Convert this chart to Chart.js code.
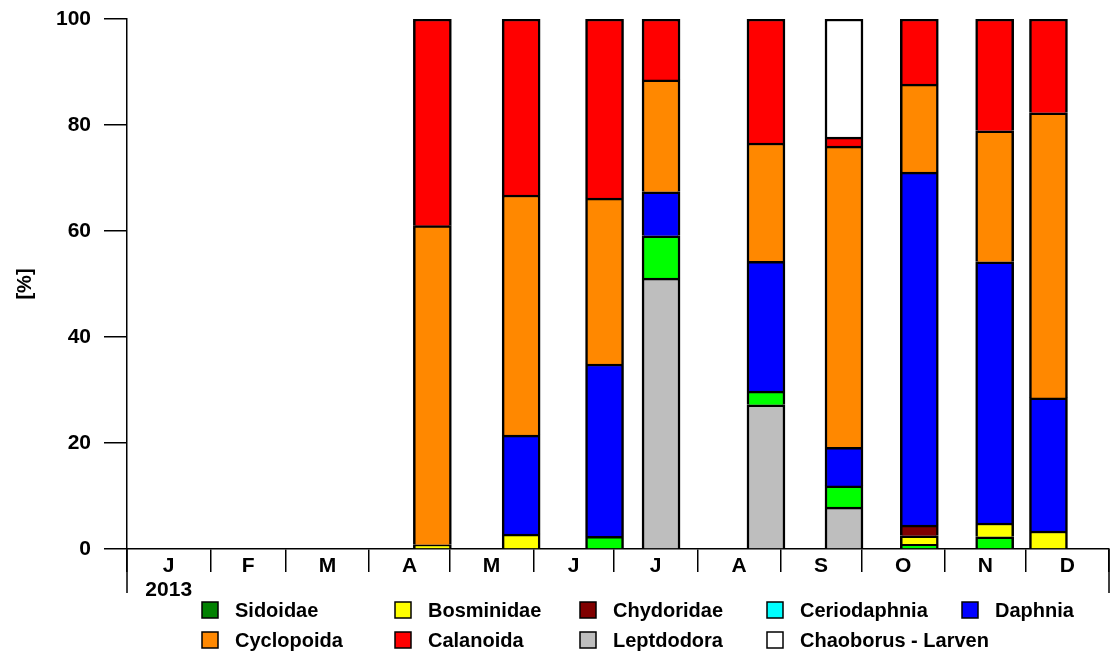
<!DOCTYPE html>
<html>
<head>
<meta charset="utf-8">
<script src="https://cdn.jsdelivr.net/npm/chart.js@4.4.0/dist/chart.umd.min.js"></script>
<style>
  html, body { margin: 0; padding: 0; background: #fff; }
</style>
</head>
<body>
<canvas id="chart" width="1110" height="654"></canvas>
<script>
// sampling dates (2013)
const sampleDates = ['2013-04-24', '2013-05-27', '2013-06-27', '2013-07-18', '2013-08-26',
                     '2013-09-24', '2013-10-22', '2013-11-19', '2013-12-09'];

// share of each group in %, one value per sampling date
const leptdodora   = [0, 0, 0, 51.1, 27.2, 7.9, 0, 0, 0];
const sidoidae     = [0, 0, 2.4, 8.0, 2.6, 4.0, 0.9, 2.3, 0];
const bosminidae   = [0.8, 2.8, 0, 0, 0, 0, 1.6, 2.6, 3.4];
const chydoridae   = [0, 0, 0, 0, 0, 0, 2.0, 0, 0];
const ceriodaphnia = [0, 0, 0, 0, 0, 0, 0, 0, 0];
const daphnia      = [0, 18.7, 32.5, 8.3, 24.5, 7.3, 66.6, 49.3, 25.1];
const cyclopoida   = [60.2, 45.3, 31.3, 21.1, 22.3, 56.8, 16.6, 24.7, 53.8];
const calanoida    = [39.0, 33.2, 33.8, 11.5, 23.4, 1.7, 12.3, 21.1, 17.7];
const chaoborus    = [0, 0, 0, 0, 0, 22.3, 0, 0, 0];

const monthLetters = ['J', 'F', 'M', 'A', 'M', 'J', 'J', 'A', 'S', 'O', 'N', 'D'];
const yTicks = [0, 20, 40, 60, 80, 100];
const yearLabel = '2013';

const legendRows = [
    ['Sidoidae', 'Bosminidae', 'Chydoridae', 'Ceriodaphnia', 'Daphnia'],
    ['Cyclopoida', 'Calanoida', 'Leptdodora', 'Chaoborus - Larven']
];

const FONT = '"Liberation Sans", Arial, Helvetica, sans-serif';

// stacking order, bottom to top
const series = [
    { label: 'Leptdodora', data: leptdodora, color: '#BEBEBE' },
    { label: 'Sidoidae', data: sidoidae, color: '#00FF00', legendColor: '#008000' },
    { label: 'Bosminidae', data: bosminidae, color: '#FFFF00' },
    { label: 'Chydoridae', data: chydoridae, color: '#800000' },
    { label: 'Ceriodaphnia', data: ceriodaphnia, color: '#00FFFF' },
    { label: 'Daphnia', data: daphnia, color: '#0000FF' },
    { label: 'Cyclopoida', data: cyclopoida, color: '#FF8800' },
    { label: 'Calanoida', data: calanoida, color: '#FF0000' },
    { label: 'Chaoborus - Larven', data: chaoborus, color: '#FFFFFF' }
];

const DAY = 86400000;
const yearStart = Date.UTC(2013, 0, 1);
const dayOf = (iso) => (Date.parse(iso) - yearStart) / DAY + 0.5;
const sampleX = sampleDates.map(dayOf);

// month boundaries and month middles, in days since 1 Jan
const monthEdges = [];
for (let m = 0; m <= 12; m++) monthEdges.push((Date.UTC(2013, m, 1) - yearStart) / DAY);
const monthMids = monthLetters.map((_, m) => (monthEdges[m] + monthEdges[m + 1]) / 2);
const xTickValues = monthEdges.concat(monthMids).sort((a, b) => a - b);

const datasets = series.map(s => ({
    label: s.label,
    data: s.data.map((v, i) => ({ x: sampleX[i], y: v })),
    backgroundColor: s.color,
    borderColor: '#000',
    borderWidth: 2.5,
    borderSkipped: 'start',
    barThickness: 38
}));

// long end ticks and the two-row legend
const extrasPlugin = {
    id: 'extras',
    afterDraw(chart) {
        const ctx = chart.ctx;
        const xs = chart.scales.x;
        ctx.save();
        ctx.strokeStyle = '#000';
        ctx.lineWidth = 1.5;
        [monthEdges[0], monthEdges[12]].forEach(v => {
            const px = xs.getPixelForValue(v);
            ctx.beginPath();
            ctx.moveTo(px, xs.top);
            ctx.lineTo(px, xs.top + 44);
            ctx.stroke();
        });

        const cols = [202, 395, 580, 767, 962];
        const rowsY = [610, 640];
        ctx.font = 'bold 20px ' + FONT;
        ctx.textBaseline = 'middle';
        legendRows.forEach((row, r) => {
            row.forEach((name, c) => {
                const s = series.find(d => d.label === name);
                const x = cols[c], y = rowsY[r];
                ctx.fillStyle = s.legendColor || s.color;
                ctx.fillRect(x, y - 8, 16, 16);
                ctx.lineWidth = 1.5;
                ctx.strokeRect(x, y - 8, 16, 16);
                ctx.fillStyle = '#000';
                ctx.fillText(name, x + 33, y + 1);
            });
        });
        ctx.restore();
    }
};

Chart.defaults.color = '#000';
Chart.defaults.font.family = FONT;

new Chart(document.getElementById('chart'), {
    type: 'bar',
    data: { datasets: datasets },
    plugins: [extrasPlugin],
    options: {
        responsive: false,
        animation: false,
        layout: { padding: { left: 0, top: 19, right: 1, bottom: 0 } },
        plugins: { legend: { display: false }, tooltip: { enabled: false } },
        scales: {
            x: {
                type: 'linear',
                stacked: true,
                offset: false,
                min: monthEdges[0],
                max: monthEdges[12],
                z: 1,
                afterFit: (scale) => {
                    scale.height = 105;
                    scale.paddingLeft = 0;
                    scale.paddingRight = 0;
                },
                afterBuildTicks: (scale) => { scale.ticks = xTickValues.map(v => ({ value: v })); },
                border: { display: true, color: '#000', width: 1.5 },
                grid: {
                    offset: false,
                    drawOnChartArea: false,
                    drawTicks: true,
                    tickLength: 23,
                    lineWidth: 1.5,
                    color: (c) => (c.tick && monthEdges.includes(c.tick.value)) ? '#000' : 'rgba(0,0,0,0)'
                },
                ticks: {
                    autoSkip: false,
                    maxRotation: 0,
                    padding: -18,
                    font: { size: 21, weight: 'bold', lineHeight: 1.15 },
                    callback: (value) => {
                        const m = monthMids.indexOf(value);
                        if (m < 0) return '';
                        return m === 0 ? [monthLetters[0], yearLabel] : monthLetters[m];
                    }
                }
            },
            y: {
                stacked: true,
                min: 0,
                max: 100,
                afterFit: (scale) => {
                    scale.width = 127;
                    scale.paddingTop = 0;
                    scale.paddingBottom = 0;
                },
                afterBuildTicks: (scale) => { scale.ticks = yTicks.map(v => ({ value: v })); },
                border: { display: true, color: '#000', width: 1.5 },
                grid: { drawOnChartArea: false, drawTicks: true, tickLength: 23, lineWidth: 1.5, color: '#000' },
                ticks: { padding: 13, font: { size: 21, weight: 'bold' } },
                title: {
                    display: true,
                    text: '[%]',
                    font: { size: 20, weight: 'bold', lineHeight: 1.2 },
                    padding: { top: 13, bottom: 0 }
                }
            }
        }
    }
});
</script>
</body>
</html>
